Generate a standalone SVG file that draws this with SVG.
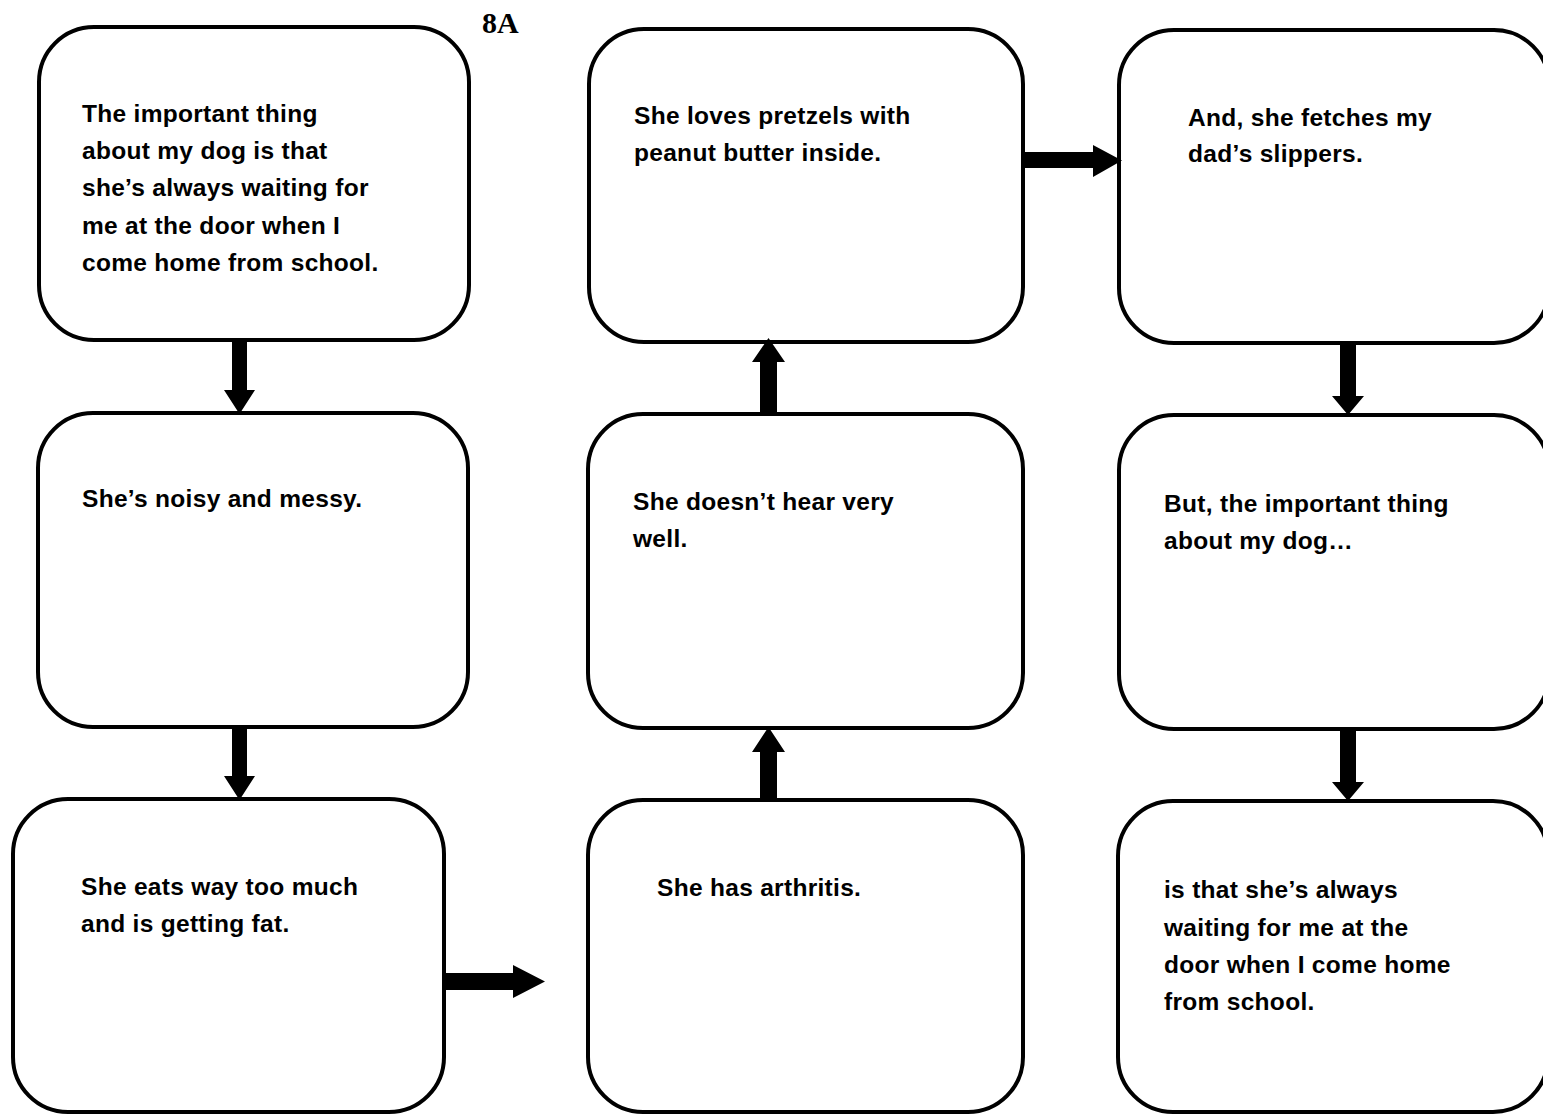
<svg xmlns="http://www.w3.org/2000/svg" width="1543" height="1115" viewBox="0 0 1543 1115">
<style>
.box{fill:#fff;stroke:#000;stroke-width:4}
.t{font-family:"Liberation Sans",Arial,sans-serif;font-weight:bold;font-size:24.5px;letter-spacing:0.3px;fill:#000}
.lbl{font-family:"Liberation Serif","Times New Roman",serif;font-weight:bold;font-size:30px;fill:#000}
.arr{fill:#000;stroke:none}
</style>
<rect width="1543" height="1115" fill="#fff"/>
<text class="lbl" x="482" y="33">8A</text>
<g id="n1"><rect class="box" x="39" y="27" width="430" height="313" rx="55"/>
<text class="t"><tspan x="82" y="122">The important thing</tspan><tspan x="82" y="159">about my dog is that</tspan><tspan x="82" y="196">she’s always waiting for</tspan><tspan x="82" y="234">me at the door when I</tspan><tspan x="82" y="271">come home from school.</tspan></text></g>
<g id="n2"><rect class="box" x="38" y="413" width="430" height="314" rx="55"/>
<text class="t"><tspan x="82" y="507">She’s noisy and messy.</tspan></text></g>
<g id="n3"><rect class="box" x="13" y="799" width="431" height="313" rx="55"/>
<text class="t"><tspan x="81" y="895">She eats way too much</tspan><tspan x="81" y="932">and is getting fat.</tspan></text></g>
<g id="n4"><rect class="box" x="588" y="800" width="435" height="312" rx="55"/>
<text class="t"><tspan x="657" y="896">She has arthritis.</tspan></text></g>
<g id="n5"><rect class="box" x="588" y="414" width="435" height="314" rx="55"/>
<text class="t"><tspan x="633" y="510">She doesn’t hear very</tspan><tspan x="633" y="547">well.</tspan></text></g>
<g id="n6"><rect class="box" x="589" y="29" width="434" height="313" rx="55"/>
<text class="t"><tspan x="634" y="124">She loves pretzels with</tspan><tspan x="634" y="161">peanut butter inside.</tspan></text></g>
<g id="n7"><rect class="box" x="1119" y="30" width="430" height="313" rx="55"/>
<text class="t"><tspan x="1188" y="126">And, she fetches my</tspan><tspan x="1188" y="162">dad’s slippers.</tspan></text></g>
<g id="n8"><rect class="box" x="1119" y="415" width="430" height="314" rx="55"/>
<text class="t"><tspan x="1164" y="512">But, the important thing</tspan><tspan x="1164" y="549">about my dog…</tspan></text></g>
<g id="n9"><rect class="box" x="1118" y="801" width="430" height="311" rx="55"/>
<text class="t"><tspan x="1164" y="898">is that she’s always</tspan><tspan x="1164" y="936">waiting for me at the</tspan><tspan x="1164" y="973">door when I come home</tspan><tspan x="1164" y="1010">from school.</tspan></text></g>
<g id="connectors">
<polygon class="arr" points="232,340 247,340 247,390 255,390 239.5,414 224,390 232,390"/>
<polygon class="arr" points="232,727 247,727 247,776 255,776 239.5,800 224,776 232,776"/>
<polygon class="arr" points="444,973 513,973 513,965 545,981.5 513,998 513,990 444,990"/>
<polygon class="arr" points="760,800 777,800 777,752 785,752 768.5,727 752,752 760,752"/>
<polygon class="arr" points="760,413 777,413 777,362 785,362 768.5,338 752,362 760,362"/>
<polygon class="arr" points="1023,152 1093,152 1093,145 1122,160.5 1093,177 1093,168 1023,168"/>
<polygon class="arr" points="1340,343 1356,343 1356,396 1364,396 1348,415 1332,396 1340,396"/>
<polygon class="arr" points="1340,729 1356,729 1356,782 1364,782 1348,801 1332,782 1340,782"/>
</g>
</svg>
